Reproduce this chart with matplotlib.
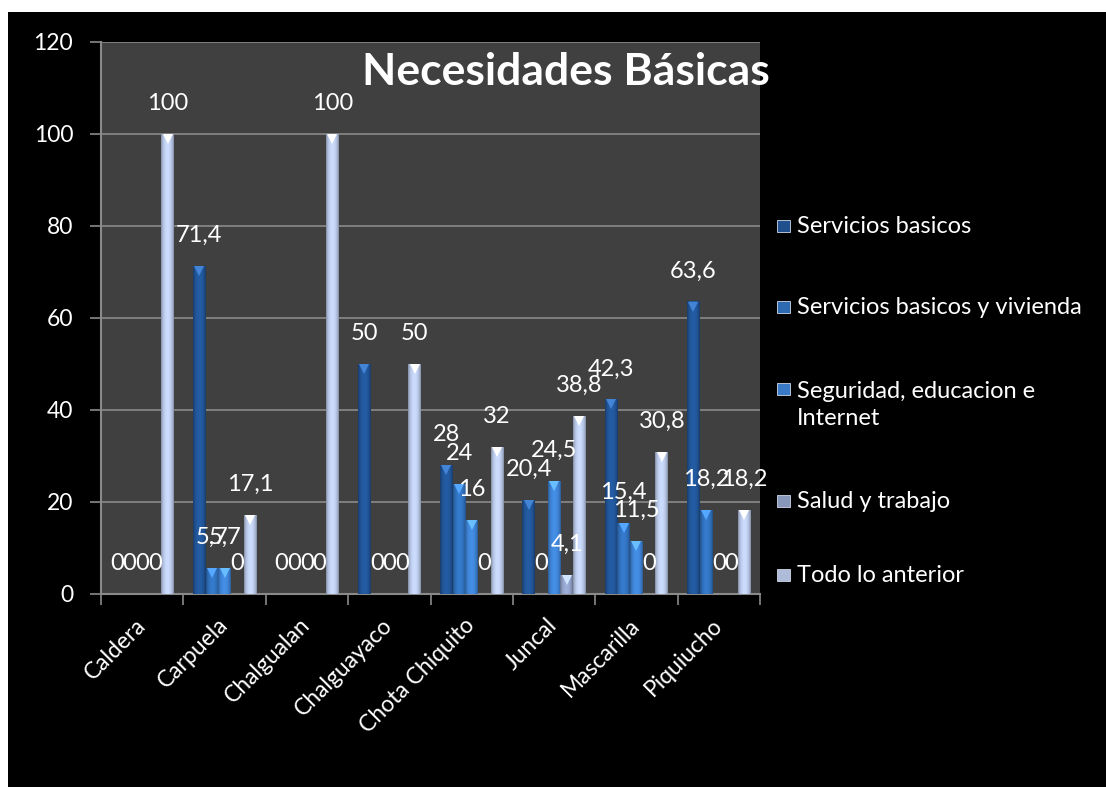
import numpy as np
import matplotlib
matplotlib.use("Agg")
import matplotlib.pyplot as plt
from matplotlib.patches import Rectangle
from matplotlib.colors import to_rgb
import matplotlib.transforms as mtransforms

# datos
categorias = ["Caldera", "Carpuela", "Chalgualan", "Chalguayaco",
              "Chota Chiquito", "Juncal", "Mascarilla", "Piquiucho"]
series = ["Servicios basicos", "Servicios basicos y vivienda",
          "Seguridad, educacion e\nInternet", "Salud y trabajo", "Todo lo anterior"]
servicios_basicos = [0, 71.4, 0, 50, 28, 20.4, 42.3, 63.6]
servicios_vivienda = [0, 5.7, 0, 0, 24, 0, 15.4, 18.2]
seguridad_educacion = [0, 5.7, 0, 0, 16, 24.5, 11.5, 0]
salud_trabajo = [0, 0, 0, 0, 0, 4.1, 0, 0]
todo_anterior = [100, 17.1, 100, 50, 32, 38.8, 30.8, 18.2]
valores = [servicios_basicos, servicios_vivienda, seguridad_educacion,
           salud_trabajo, todo_anterior]
yticks = [0, 20, 40, 60, 80, 100, 120]

colores = ["#1f4f8c", "#2d69b0", "#3a7ac6", "#8797bb", "#aebcd9"]

plt.rcParams['font.family'] = ['Lato', 'DejaVu Sans']

fig = plt.figure(figsize=(11.06, 7.87), dpi=100, facecolor="white")
# fondo negro con borde blanco
fig.patches.append(Rectangle((8 / 1106, 0), 1 - 8 / 1106, 1 - 12 / 787,
                             transform=fig.transFigure, facecolor="black",
                             edgecolor="none", zorder=-10))

ax = fig.add_axes([101 / 1106, 193 / 787, 659 / 1106, 552 / 787])
ax.set_facecolor("#404040")

x = np.arange(len(categorias))
w = 0.154
grad_t = np.linspace(0, 1, 40)
perfil = 0.72 + 0.45 * np.sin(np.pi * grad_t) ** 0.6

for i, (vals, col) in enumerate(zip(valores, colores)):
    pos = x + (i - 2) * w
    bars = ax.bar(pos, vals, width=w, color=col, zorder=3, linewidth=0)
    base = np.array(to_rgb(col))
    img = np.clip(base[None, None, :] * perfil[None, :, None], 0, 1)
    for b, v in zip(bars, vals):
        if v <= 0:
            continue
        im = ax.imshow(img, extent=(b.get_x(), b.get_x() + b.get_width(), 0, v),
                       aspect="auto", zorder=3.5, interpolation="bilinear")
        im.set_clip_path(b)
        ax.plot(b.get_x() + b.get_width() / 2, v - 1.1, marker="v",
                markersize=7, color=np.clip(base * 1.35 + 0.1, 0, 1),
                markeredgewidth=0, zorder=4)
    for p, v in zip(pos, vals):
        txt = f"{v:g}".replace(".", ",")
        ax.annotate(txt, (p, v), xytext=(0, 22), textcoords="offset points",
                    ha="center", va="center", color="white", fontsize=17,
                    zorder=5)

ax.set_xlim(-0.5, len(categorias) - 0.5)
ax.set_ylim(0, 120)
ax.set_yticks(yticks)
ax.grid(axis="y", color="#8a8a8a", linewidth=1.2, zorder=1)
ax.set_axisbelow(True)

ax.set_xticks(x)
ax.set_xticklabels(categorias, rotation=45, ha="right", va="center",
                   rotation_mode="anchor", color="white", fontsize=16.5)
desplaza = mtransforms.ScaledTranslation(9 / 100, -3 / 100, fig.dpi_scale_trans)
for lab in ax.get_xticklabels():
    lab.set_transform(lab.get_transform() + desplaza)
ax.set_xticks(np.arange(-0.5, len(categorias)), minor=True)
ax.tick_params(axis="x", which="major", length=0, pad=20)
ax.tick_params(axis="x", which="minor", length=8, width=1.2, color="#8a8a8a")
ax.tick_params(axis="y", length=8, width=1.2, color="#8a8a8a", labelcolor="white",
               labelsize=16.5, pad=12)

for s in ["top", "right"]:
    ax.spines[s].set_visible(False)
for s in ["left", "bottom"]:
    ax.spines[s].set_color("#8a8a8a")
    ax.spines[s].set_linewidth(1.5)

ax.text(0.705, 0.945, "Necesidades Básicas", transform=ax.transAxes,
        ha="center", va="center", color="white", fontsize=32,
        fontweight="bold", zorder=6, clip_on=False)

# leyenda manual
leg_y = [226, 307, 389, 501, 575]
for nombre, col, yy in zip(series, colores, leg_y):
    yf = 1 - yy / 787
    fig.patches.append(Rectangle((777 / 1106, yf - 6 / 787), 13 / 1106, 12 / 787,
                                 transform=fig.transFigure, facecolor=col,
                                 edgecolor="#cfd8ea", linewidth=0.6))
    if "\n" in nombre:
        yf = yf - 16 / 787
    fig.text(797 / 1106, yf, nombre, ha="left", va="center",
             color="white", fontsize=17, linespacing=1.4,
             transform=fig.transFigure)

fig.savefig("out.png", dpi=100, facecolor=fig.get_facecolor())
